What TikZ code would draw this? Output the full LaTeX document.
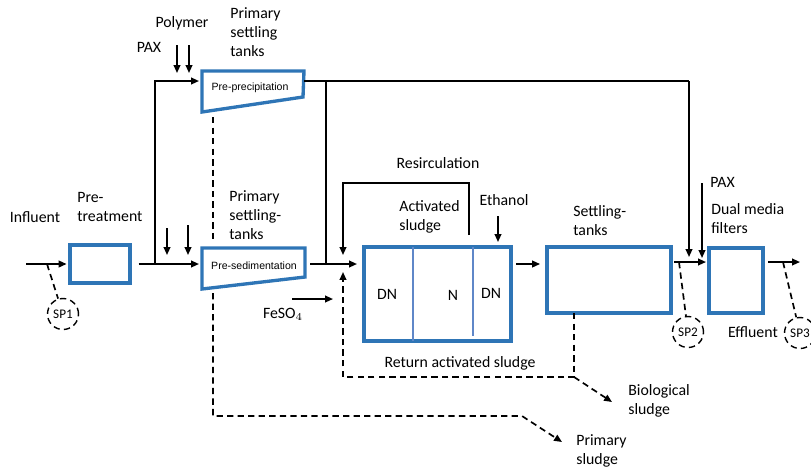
\documentclass[tikz,border=0pt]{standalone}
\usepackage{fontspec}
\setmainfont{Carlito}
\newfontfamily\boxfont{Liberation Sans}
\usetikzlibrary{arrows.meta}
\definecolor{tankblue}{RGB}{46,117,182}
\definecolor{wallblue}{RGB}{95,135,200}

\begin{document}
\begin{tikzpicture}[
  x=0.02cm, y=-0.02cm,
  font=\fontsize{9}{10.8}\selectfont,
  pipe/.style={line width=0.95pt},
  flow/.style={pipe, -{Triangle[length=4.5pt,width=3.8pt]}},
  sludge/.style={line width=0.95pt, dash pattern=on 3.6pt off 2.4pt},
  unit/.style={draw=tankblue, line width=1.9pt, inner sep=0pt},
  tank/.style={draw=tankblue, line width=1.9pt, line join=miter},
  intank/.style={font=\boxfont\fontsize{6}{7}\selectfont, inner sep=0pt},
  lbl/.style={inner sep=0pt, align=left},
  sp/.style={circle, draw, sludge, line width=0.8pt, minimum size=0.62cm,
    inner sep=0pt, font=\fontsize{7.5}{8}\selectfont}
]
\useasboundingbox (0,0) rectangle (811,468);
\clip (0,0) rectangle (811,468);

%% ── Units ────────────────────────────────────────────────────────────────────
\node[unit, minimum width=1.2cm,  minimum height=0.76cm] (pretreat) at (100,264) {};
\node[unit, minimum width=2.94cm, minimum height=1.88cm] (actsl)    at (437.5,294) {};
\node[unit, minimum width=2.48cm, minimum height=1.32cm] (settle)   at (609,280) {};
\node[unit, minimum width=1.08cm, minimum height=1.3cm]  (filter)   at (736,280.5) {};

\draw[wallblue, line width=1.3pt] (413,247) -- (413,341);
\draw[wallblue, line width=1.3pt] (473,247) -- (473,336);

\draw[tank] (202,71) -- (304,71) -- (303,97) -- (202,112) -- cycle;
\node[intank] (preprec) at (250,88) {Pre-precipitation};
\draw[tank] (202,248) -- (305,248) -- (305,277) -- (202,289) -- cycle;
\node[intank] (presed) at (254,266) {Pre-sedimentation};

%% ── Labels ───────────────────────────────────────────────────────────────────
\node[lbl] (influent) at (35,217) {Influent};
\node[lbl, anchor=west] (pretext) at (77,207) {Pre-\\treatment};
\node[lbl] (polymer) at (182,23) {Polymer};
\node[lbl] (pax1) at (149,47) {PAX};
\node[lbl, anchor=west] (pst1) at (230,32) {Primary\\settling\\tanks};
\node[lbl, anchor=west] (pst2) at (229,215) {Primary\\settling-\\tanks};
\node[lbl] (feso) at (283,314) {FeSO$_4$};
\node[lbl] (resirc) at (438,163) {Resirculation};
\node[lbl, anchor=west] (astext) at (399,217) {Activated\\sludge};
\node[lbl] (ethanol) at (504,200) {Ethanol};
\node[lbl] (dn1) at (387,294) {DN};
\node[lbl] (nit) at (453,295) {N};
\node[lbl] (dn2) at (491,293) {DN};
\node[lbl] (rastext) at (460,363) {Return activated sludge};
\node[lbl, anchor=west] (sttext) at (573,221) {Settling-\\tanks};
\node[lbl, anchor=west] (pax2) at (710,182) {PAX};
\node[lbl, anchor=west] (fltext) at (711,219) {Dual media\\filters};
\node[lbl] (effluent) at (753,332) {Effluent};
\node[lbl, anchor=west] (biotext) at (628,401) {Biological\\sludge};
\node[lbl, anchor=west] (primtext) at (576,451) {Primary\\sludge};

%% ── Sampling points ──────────────────────────────────────────────────────────
\node[sp] (sp1) at (63,314) {SP1};
\node[sp] (sp2) at (688,332) {SP2};
\node[sp] (sp3) at (800,333) {SP3};

%% ── Junctions ────────────────────────────────────────────────────────────────
\coordinate (inflow)  at (26,264);
\coordinate (split)   at (155,264);
\coordinate (pp-in)   at (199,81);
\coordinate (pp-out)  at (304,81);
\coordinate (ps-in)   at (199,264);
\coordinate (ps-out)  at (310,264);
\coordinate (tee-top) at (326,81);
\coordinate (tee)     at (326,264);
\coordinate (as-in)   at (357,264);
\coordinate (bypass)  at (689,81);
\coordinate (bp-end)  at (689,257);
\coordinate (fl-in)   at (706,262);
\coordinate (outflow) at (800,262);
\coordinate (tap1)    at (47,264);
\coordinate (tap2)    at (679,262);
\coordinate (tap3)    at (783,262);

%% ── Main flow ────────────────────────────────────────────────────────────────
\draw[flow, shorten >=1pt] (inflow) -- (pretreat.west);
\draw[flow, shorten <=4pt] (pretreat.east) -- (ps-in);
\draw[flow] (split) |- (pp-in);
\draw[pipe] (pp-out) -- (bypass);
\draw[flow] (bypass) -- (bp-end);
\draw[pipe] (tee-top) -- (tee);
\draw[flow] (ps-out) -- (as-in);
\draw[flow, shorten <=2pt, shorten >=3pt] (actsl.east |- as-in) -- (settle.west |- as-in);
\draw[flow, shorten <=1pt] (settle.east |- fl-in) -- (fl-in);
\draw[flow, shorten <=2pt] (filter.east |- outflow) -- (outflow);

%% ── Dosing ───────────────────────────────────────────────────────────────────
\foreach \n/\x/\ya/\yb in {dpa/177/45/73, dpo/189/45/73, dla/167/228/255,
    dlb/188/225/255, dpx/702/183/258, det/498/216/242, dfe/292/299/299} {
  \coordinate (\n-a) at (\x,\ya);
  \coordinate (\n-b) at (\x,\yb);
}
\coordinate (dfe-b) at (333,299);
\foreach \n in {dpa,dpo,dla,dlb,dpx,det,dfe}
  \draw[flow] (\n-a) -- (\n-b);

%% ── Recirculation ────────────────────────────────────────────────────────────
\coordinate (rc-a) at (469,235);
\coordinate (rc-b) at (343,183);
\coordinate (rc-c) at (343,255);
\draw[flow] (rc-a) |- (rc-b) -- (rc-c);

%% ── Sludge lines ─────────────────────────────────────────────────────────────
\coordinate (ras-a) at (574,313);
\coordinate (ras-b) at (574,377);
\coordinate (ras-c) at (343,377);
\coordinate (ras-d) at (343,272);
\coordinate (bio)   at (612,402);
\draw[flow, sludge] (ras-a) -- (ras-b) -- (ras-c) -- (ras-d);
\draw[flow, sludge] (ras-b) -- (bio);

\coordinate (ps-a) at (213,117);
\coordinate (ps-b) at (213,243);
\coordinate (ps-c) at (213,293);
\coordinate (ps-d) at (213,416);
\coordinate (ps-e) at (522,416);
\coordinate (prim) at (562,442);
\draw[sludge] (ps-a) -- (ps-b);
\draw[flow, sludge] (ps-c) -- (ps-d) -- (ps-e) -- (prim);

\draw[sludge] (tap1) -- (sp1);
\draw[sludge] (tap2) -- (sp2);
\draw[sludge] (tap3) -- (sp3);

\end{tikzpicture}
\end{document}
